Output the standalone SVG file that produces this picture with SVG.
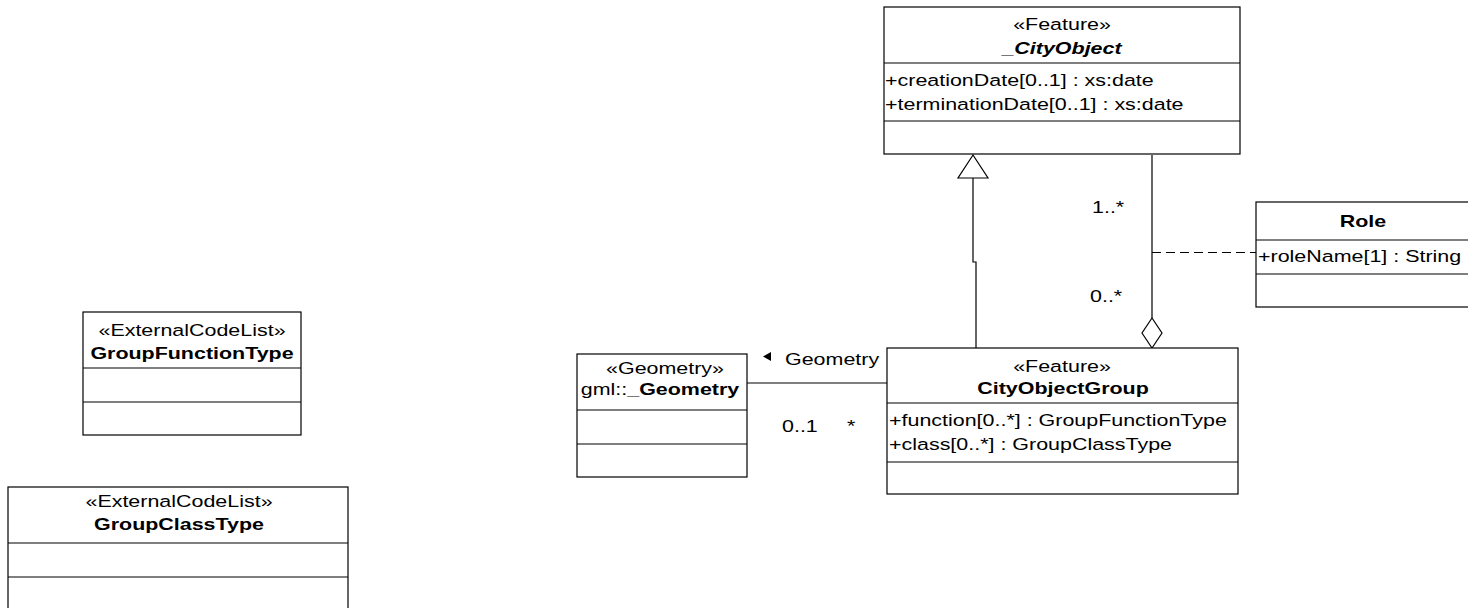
<svg xmlns="http://www.w3.org/2000/svg" width="1468" height="608" viewBox="0 0 1468 608">
<style>
.box{fill:#fff;stroke:#000;stroke-width:1.2}
.sep{stroke:#000;stroke-width:1.2}
.t{font-family:"Liberation Sans",Arial,sans-serif;font-size:16.5px;fill:#000}
.c{text-anchor:middle}
.b{font-weight:bold}
.bi{font-weight:bold;font-style:italic}
.ln{fill:none;stroke:#000;stroke-width:1.2}
.dash{fill:none;stroke:#000;stroke-width:1.2;stroke-dasharray:9 5}
</style>
<rect width="1468" height="608" fill="#fff"/>
<g id="connectors">
  <polyline class="ln" points="976,348 976,262 973,262 973,178"/>
  <polygon points="973,155 958,178 988,178" fill="#fff" stroke="#000" stroke-width="1.2"/>
  <line class="ln" x1="1152" y1="155" x2="1152" y2="318"/>
  <polygon points="1152,318 1162,333 1152,348 1142,333" fill="#fff" stroke="#000" stroke-width="1.2"/>
  <line class="dash" x1="1152" y1="252.5" x2="1256" y2="252.5"/>
  <line class="ln" x1="747" y1="383" x2="887" y2="383"/>
  <polygon points="763,356.5 771,352 771,361" fill="#000"/>
  <text class="t" transform="translate(785,365) scale(1.3,1)">Geometry</text>
  <text class="t" transform="translate(782,432) scale(1.3,1)">0..1</text>
  <text class="t" transform="translate(847,432) scale(1.3,1)">*</text>
  <text class="t" transform="translate(1092,213) scale(1.3,1)">1..*</text>
  <text class="t" transform="translate(1090,302) scale(1.3,1)">0..*</text>
</g>
<g id="CityObject">
  <rect class="box" x="884" y="7" width="356" height="147"/>
  <line class="sep" x1="884" y1="63" x2="1240" y2="63"/>
  <line class="sep" x1="884" y1="121" x2="1240" y2="121"/>
  <text class="t c" transform="translate(1062,30) scale(1.3,1)">«Feature»</text>
  <text class="t c bi" transform="translate(1062,54) scale(1.3,1)">_CityObject</text>
  <text class="t" transform="translate(885,86) scale(1.3,1)">+creationDate[0..1] : xs:date</text>
  <text class="t" transform="translate(885,110) scale(1.3,1)">+terminationDate[0..1] : xs:date</text>
</g>
<g id="Role">
  <rect class="box" x="1256" y="202" width="214" height="105"/>
  <line class="sep" x1="1256" y1="240" x2="1470" y2="240"/>
  <line class="sep" x1="1256" y1="274" x2="1470" y2="274"/>
  <text class="t c b" transform="translate(1363,227) scale(1.3,1)">Role</text>
  <text class="t" transform="translate(1258,262) scale(1.3,1)">+roleName[1] : String</text>
</g>
<g id="CityObjectGroup">
  <rect class="box" x="887" y="348" width="351" height="146"/>
  <line class="sep" x1="887" y1="403" x2="1238" y2="403"/>
  <line class="sep" x1="887" y1="462" x2="1238" y2="462"/>
  <text class="t c" transform="translate(1062,372) scale(1.3,1)">«Feature»</text>
  <text class="t c b" transform="translate(1063,394) scale(1.3,1)">CityObjectGroup</text>
  <text class="t" transform="translate(889,426) scale(1.3,1)">+function[0..*] : GroupFunctionType</text>
  <text class="t" transform="translate(889,450) scale(1.3,1)">+class[0..*] : GroupClassType</text>
</g>
<g id="Geometry">
  <rect class="box" x="577" y="354" width="170" height="123"/>
  <line class="sep" x1="577" y1="410" x2="747" y2="410"/>
  <line class="sep" x1="577" y1="444" x2="747" y2="444"/>
  <text class="t c" transform="translate(665,374) scale(1.3,1)">«Geometry»</text>
  <text class="t c" transform="translate(660,395) scale(1.3,1)">gml::<tspan class="b">_Geometry</tspan></text>
</g>
<g id="GroupFunctionType">
  <rect class="box" x="83" y="312" width="218" height="123"/>
  <line class="sep" x1="83" y1="368" x2="301" y2="368"/>
  <line class="sep" x1="83" y1="402" x2="301" y2="402"/>
  <text class="t c" transform="translate(192,336) scale(1.3,1)">«ExternalCodeList»</text>
  <text class="t c b" transform="translate(192,359) scale(1.3,1)">GroupFunctionType</text>
</g>
<g id="GroupClassType">
  <rect class="box" x="8" y="487" width="340" height="140"/>
  <line class="sep" x1="8" y1="543" x2="348" y2="543"/>
  <line class="sep" x1="8" y1="577" x2="348" y2="577"/>
  <text class="t c" transform="translate(179,507) scale(1.3,1)">«ExternalCodeList»</text>
  <text class="t c b" transform="translate(179,530) scale(1.3,1)">GroupClassType</text>
</g>
</svg>
